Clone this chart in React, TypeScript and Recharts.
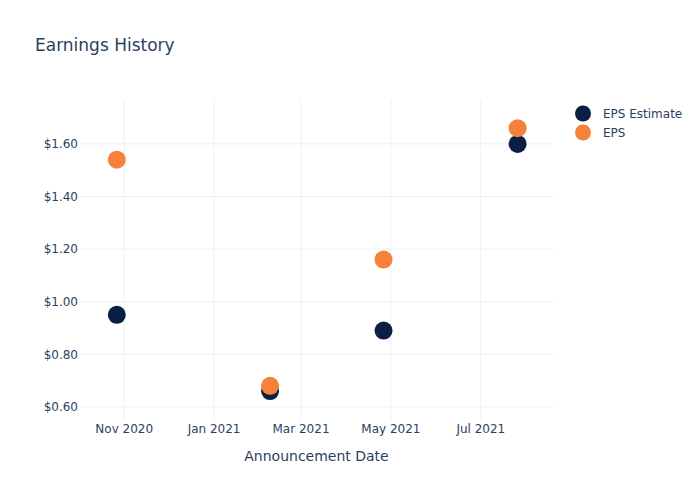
import React from "react";
import {
    ScatterChart,
    Scatter,
    XAxis,
    YAxis,
    CartesianGrid,
    Legend,
    Label
} from "recharts";

// announcement dates (ISO) and values
const announcementDates = ["2020-10-27", "2021-02-08", "2021-04-26", "2021-07-26"];
const epsEstimate = [0.95, 0.66, 0.89, 1.6];
const epsActual = [1.54, 0.68, 1.16, 1.66];

const xTicks = ["2020-11-01", "2021-01-01", "2021-03-01", "2021-05-01", "2021-07-01"];
const yTicks = [0.6, 0.8, 1.0, 1.2, 1.4, 1.6];
const monthNames = ["Jan", "Feb", "Mar", "Apr", "May", "Jun", "Jul", "Aug", "Sep", "Oct", "Nov", "Dec"];

const NAVY = "#0b1f42";
const ORANGE = "#f5813a";
const TEXT = "#2a3f5f";
const GRID = "#ebf0f8";
const FONT = "'DejaVu Sans', verdana, sans-serif";

const toTime = (d: string) => new Date(d + "T00:00:00Z").getTime();

const estimateData = announcementDates.map((d, i) => ({ date: toTime(d), value: epsEstimate[i] }));
const epsData = announcementDates.map((d, i) => ({ date: toTime(d), value: epsActual[i] }));

const legendItems = [
    { name: "EPS Estimate", color: NAVY },
    { name: "EPS", color: ORANGE }
];

function dot(color: string) {
    return (props: any) => <circle cx={props.cx} cy={props.cy} r={9} fill={color} />;
}

function LegendBox() {
    return (
        <div style={{ fontFamily: FONT, fontSize: 12, color: TEXT }}>
            {legendItems.map(item => (
                <div key={item.name} style={{ display: "flex", alignItems: "center", height: 19 }}>
                    <svg width={22} height={19}>
                        <circle cx={11} cy={9.5} r={8} fill={item.color} />
                    </svg>
                    <span style={{ marginLeft: 9 }}>{item.name}</span>
                </div>
            ))}
        </div>
    );
}

export default function App() {
    return (
        <div style={{ position: "absolute", left: 0, top: 0, width: 700, height: 500, background: "#fff" }}>
            <svg width={700} height={70} style={{ position: "absolute", left: 0, top: 0 }}>
                <text x={35} y={51} fontFamily={FONT} fontSize={17} fill={TEXT}>Earnings History</text>
            </svg>
            <ScatterChart
                width={700}
                height={500}
                margin={{ top: 100, right: 147, bottom: 0, left: 0 }}
            >
                <CartesianGrid stroke={GRID} strokeWidth={1} syncWithTicks />
                <XAxis
                    type="number"
                    dataKey="date"
                    domain={[toTime("2020-10-02"), toTime("2021-08-19")]}
                    ticks={xTicks.map(toTime)}
                    tickFormatter={(v: number) => {
                        const d = new Date(v);
                        return `${monthNames[d.getUTCMonth()]} ${d.getUTCFullYear()}`;
                    }}
                    height={80}
                    axisLine={false}
                    tickLine={false}
                    tickSize={0}
                    tickMargin={4}
                    tick={{ fill: TEXT, fontSize: 12, fontFamily: FONT }}
                >
                    <Label
                        value="Announcement Date"
                        position="insideBottom"
                        offset={39}
                        fill={TEXT}
                        fontSize={14}
                        fontFamily={FONT}
                    />
                </XAxis>
                <YAxis
                    type="number"
                    dataKey="value"
                    domain={[0.55, 1.767]}
                    ticks={yTicks}
                    tickFormatter={(v: number) => `$${v.toFixed(2)}`}
                    width={80}
                    axisLine={false}
                    tickLine={false}
                    tickSize={0}
                    tickMargin={2}
                    tick={{ fill: TEXT, fontSize: 12, fontFamily: FONT }}
                />
                <Scatter
                    name="EPS Estimate"
                    data={estimateData}
                    fill={NAVY}
                    shape={dot(NAVY)}
                    isAnimationActive={false}
                />
                <Scatter
                    name="EPS"
                    data={epsData}
                    fill={ORANGE}
                    shape={dot(ORANGE)}
                    isAnimationActive={false}
                />
                <Legend
                    layout="horizontal"
                    verticalAlign="middle"
                    align="center"
                    content={<LegendBox />}
                    wrapperStyle={{ left: 572, top: 104, width: 128, height: 40 }}
                />
            </ScatterChart>
        </div>
    );
}
